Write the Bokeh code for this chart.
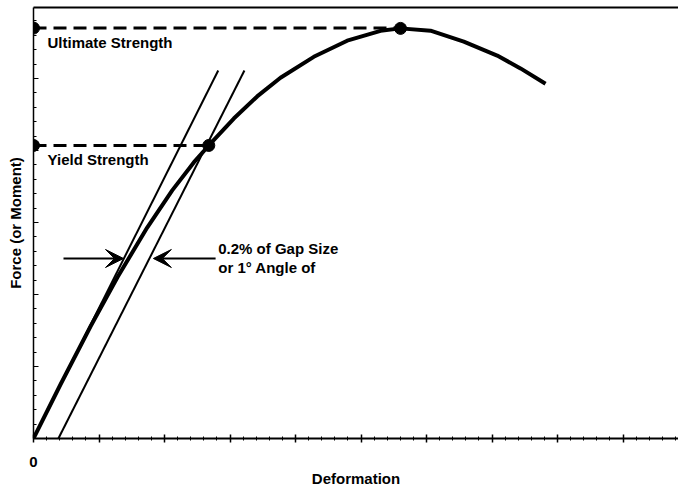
from bokeh.plotting import figure
from bokeh.models import (Arrow, VeeHead, Label, LinearAxis, FixedTicker, Range1d,
                          SingleIntervalTicker, CustomJSTickFormatter)
from bokeh.embed import file_html
from bokeh.resources import INLINE

# ---- data ----
curve_x = [0, 0.412, 0.870, 1.282, 1.736, 2.118, 2.447, 2.676, 3.058, 3.415, 3.771,
           4.279, 4.789, 5.298, 5.603, 6.061, 6.569, 7.079, 7.435, 7.817]
curve_y = [0, 0.75, 1.556, 2.24, 2.93, 3.446, 3.834, 4.07, 4.444, 4.751, 5.011,
           5.301, 5.525, 5.662, 5.696, 5.664, 5.512, 5.318, 5.14, 4.926]

elastic_x = [0.0, 2.82]
elastic_y = [0.0, 5.11]
offset_x = [0.38, 3.22]
offset_y = [0.0, 5.11]

ultimate_x = [0.0, 5.603]
ultimate_y = [5.70, 5.70]
yield_x = [0.0, 2.676]
yield_y = [4.07, 4.07]

point_x = [0.0, 5.603, 0.0, 2.676]
point_y = [5.70, 5.696, 4.07, 4.07]

arrow_left = (0.458, 1.374, 2.5)   # x_start, x_end, y
arrow_right = (2.78, 1.83, 2.5)

labels = [
    (0.214, 5.50, "Ultimate Strength"),
    (0.214, 3.88, "Yield Strength"),
    (2.82, 2.64, "0.2% of Gap Size"),
    (2.82, 2.38, "or 1° Angle of"),
]
x_title = "Deformation"
y_title = "Force (or Moment)"
tick_label_zero = "0"

FONT = "Liberation Sans"

p = figure(width=678, height=489, x_range=Range1d(0, 9.847), y_range=Range1d(0, 5.986),
           output_backend="svg", toolbar_location=None,
           min_border_left=33, min_border_right=0, min_border_top=7, min_border_bottom=51)
p.background_fill_color = "white"
p.border_fill_color = "white"
p.outline_line_color = None
p.xgrid.visible = False
p.ygrid.visible = False

# x axis
xa = p.xaxis[0]
xa.ticker = SingleIntervalTicker(interval=1, num_minor_ticks=5)
xa.formatter = CustomJSTickFormatter(code="return tick == 0 ? '%s' : '';" % tick_label_zero)
xa.axis_line_width = 2
xa.axis_line_color = "black"
xa.major_tick_in = 4
xa.major_tick_out = 4
xa.minor_tick_in = 2
xa.minor_tick_out = 2
xa.major_tick_line_width = 1.5
xa.major_label_standoff = 14
xa.major_label_text_font = FONT
xa.major_label_text_font_style = "bold"
xa.major_label_text_font_size = "15px"
xa.major_label_text_color = "black"
xa.axis_label = x_title
xa.axis_label_standoff = 0
xa.axis_label_text_font = FONT
xa.axis_label_text_font_style = "bold"
xa.axis_label_text_font_size = "15px"
xa.axis_label_text_color = "black"

# y axis
ya = p.yaxis[0]
ya.ticker = SingleIntervalTicker(interval=1, num_minor_ticks=5)
ya.formatter = CustomJSTickFormatter(code="return '';")
ya.axis_line_width = 1.5
ya.axis_line_color = "black"
ya.major_tick_in = 5
ya.major_tick_out = 0
ya.minor_tick_in = 3
ya.minor_tick_out = 0
ya.major_label_standoff = 0
ya.axis_label = y_title
ya.axis_label_standoff = 10
ya.axis_label_text_font = FONT
ya.axis_label_text_font_style = "bold"
ya.axis_label_text_font_size = "15px"
ya.axis_label_text_color = "black"

# top border line
top = LinearAxis(ticker=FixedTicker(ticks=[]), major_label_text_font_size="0px",
                 major_tick_out=0, major_tick_in=0, minor_tick_out=0, minor_tick_in=0,
                 major_label_standoff=0, axis_line_width=2, axis_line_color="black")
p.add_layout(top, "above")

# lines
p.line(elastic_x, elastic_y, line_color="black", line_width=2)
p.line(offset_x, offset_y, line_color="black", line_width=2)
p.line(ultimate_x, ultimate_y, line_color="black", line_width=3, line_dash="13 7")
p.line(yield_x, yield_y, line_color="black", line_width=3, line_dash="13 7")
p.line(curve_x, curve_y, line_color="black", line_width=4, line_join="round")
p.scatter(point_x, point_y, size=12, color="black")

for xs, xe, yy in (arrow_left, arrow_right):
    p.add_layout(Arrow(end=VeeHead(size=18, fill_color="black", line_color="black"),
                       x_start=xs, y_start=yy, x_end=xe, y_end=yy,
                       line_width=2, line_color="black"))

for lx, ly, txt in labels:
    p.add_layout(Label(x=lx, y=ly, text=txt, text_font=FONT, text_font_style="bold",
                       text_font_size="15px", text_color="black", text_baseline="alphabetic"))

open("out.html", "w").write(file_html(p, INLINE))
